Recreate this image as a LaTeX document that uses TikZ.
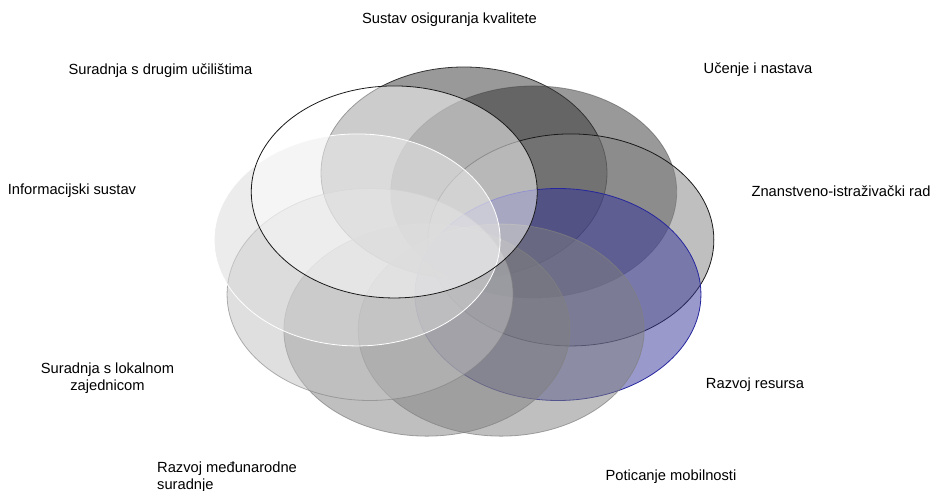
\documentclass[tikz,border=0pt]{standalone}
\usepackage{fontspec}
\setmainfont{Liberation Sans}
\usepackage{xcolor}
\usepackage{tikz}
\usetikzlibrary{shapes.geometric,positioning}

\definecolor{tamna}{HTML}{333333}
\definecolor{srednja}{HTML}{808080}
\definecolor{svijetla}{HTML}{BFBFBF}
\definecolor{blijeda}{HTML}{D9D9D9}
\definecolor{plava}{HTML}{333399}
\definecolor{plavirub}{HTML}{26269E}
\definecolor{crna}{HTML}{1A1A1A}

\begin{document}
\begin{tikzpicture}[x=1pt,y=1pt,font=\fontsize{14.7}{17}\selectfont,
	krug/.style={ellipse,minimum width=286pt,minimum height=212pt,inner sep=0pt,fill opacity=0.5,line width=0.8pt},
	oznaka/.style={inner sep=0pt,align=center}]
	\useasboundingbox (-464,-236) rectangle (467,254);

	\foreach \i/\boja/\rub/\op in {1/tamna/tamna/1, 2/tamna/tamna/0.4, 3/srednja/crna/1,
			4/plava/plavirub/1, 5/srednja/srednja/0.7, 6/srednja/srednja/0.7,
			7/svijetla/srednja/0.6, 8/blijeda/white/1, 9/white/crna/1}
		\node[krug,fill=\boja,draw=\rub,draw opacity=\op] (e\i) at ({90-40*(\i-1)}:108.5pt and 81pt) {};

	\node[oznaka] (sok) at (-14.5,234) {Sustav osiguranja kvalitete};
	\node[oznaka] (uin) at (294,184) {Učenje i nastava};
	\node[oznaka] (zir) at (377,63) {Znanstveno-istraživački rad};
	\node[oznaka] (rr) at (291,-131) {Razvoj resursa};
	\node[oznaka] (pm) at (207,-223) {Poticanje mobilnosti};
	\node[oznaka,align=left,anchor=west] (rms) at (-307,-223.5) {Razvoj međunarodne\\suradnje};
	\node[oznaka] (slz) at (-356.5,-124) {Suradnja s lokalnom\\zajednicom};
	\node[oznaka] (is) at (-392,63) {Informacijski sustav};
	\node[oznaka] (sdu) at (-303.5,183) {Suradnja s drugim učilištima};
\end{tikzpicture}
\end{document}
